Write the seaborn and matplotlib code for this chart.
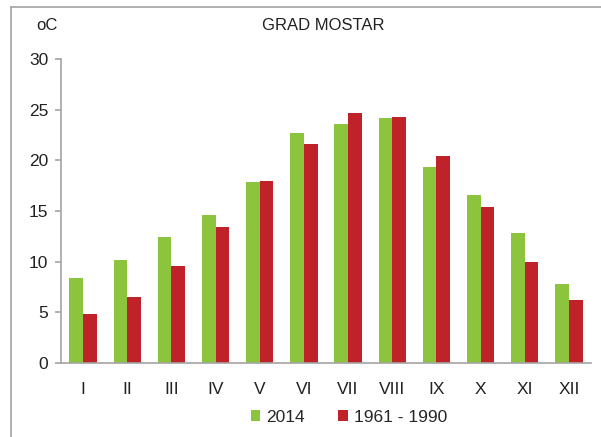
import numpy as np
import pandas as pd
import matplotlib
matplotlib.use("Agg")
import matplotlib.pyplot as plt
import seaborn as sns
from matplotlib.patches import Patch
from matplotlib.lines import Line2D

months = ["I", "II", "III", "IV", "V", "VI", "VII", "VIII", "IX", "X", "XI", "XII"]
series_names = ["2014", "1961 - 1990"]
vals_2014 = [8.4, 10.2, 12.4, 14.6, 17.9, 22.7, 23.6, 24.2, 19.3, 16.6, 12.8, 7.8]
vals_norm = [4.8, 6.5, 9.6, 13.4, 18.0, 21.6, 24.7, 24.3, 20.4, 15.4, 10.0, 6.2]
colors = ["#8CC43E", "#BF2228"]

df = pd.DataFrame({
    "month": months * 2,
    "series": [series_names[0]] * 12 + [series_names[1]] * 12,
    "temp": vals_2014 + vals_norm,
})

sns.set_theme(style="white")
plt.rcParams["font.family"] = ["Liberation Sans", "DejaVu Sans"]

fig = plt.figure(figsize=(6.01, 4.37), dpi=100)
ax = fig.add_axes([61 / 601, 1 - 363 / 437, 530 / 601, (363 - 59) / 437])

sns.barplot(data=df, x="month", y="temp", hue="series", order=months,
            hue_order=series_names, palette=colors, width=0.62, gap=0,
            saturation=1, ax=ax, legend=False, edgecolor="none")

ax.set_xlim(-0.5, 11.5)
ax.set_ylim(0, 30)
ax.set_yticks([0, 5, 10, 15, 20, 25, 30])
ax.set_xlabel("")
ax.set_ylabel("")
for s in ["top", "right"]:
    ax.spines[s].set_visible(False)
for s in ["left", "bottom"]:
    ax.spines[s].set_color("#a3a3a3")
    ax.spines[s].set_linewidth(1.2)
ax.set_xticks(np.arange(-0.5, 12, 1), minor=True)
ax.tick_params(axis="x", which="major", length=0, pad=14, labelsize=12.5, colors="#222222")
ax.tick_params(axis="x", which="minor", length=5, width=1.2, color="#a3a3a3", direction="out")
ax.tick_params(axis="y", which="major", length=4, width=1.2, color="#a3a3a3",
               direction="out", labelsize=12.5, labelcolor="#222222", left=True, pad=5)

fig.text(323 / 601, 1 - 25 / 437, "GRAD MOSTAR", ha="center", va="center", fontsize=12, color="#222222")
fig.text(47 / 601, 1 - 26 / 437, "oC", ha="center", va="center", fontsize=12, color="#222222")

handles = [Patch(facecolor=colors[0], edgecolor="none", label=series_names[0]),
           Patch(facecolor=colors[1], edgecolor="none", label=series_names[1])]
fig.legend(handles=handles, loc="center", bbox_to_anchor=(349 / 601, 1 - 417 / 437), ncol=2,
           frameon=False, fontsize=12.5, handlelength=0.55, handleheight=0.55,
           handletextpad=0.35, columnspacing=1.9)

fig.add_artist(Line2D([11 / 601, 11 / 601], [0, 1 - 7 / 437], color="#a3a3a3", lw=1.2, transform=fig.transFigure))
fig.add_artist(Line2D([11 / 601, 1], [1 - 7 / 437, 1 - 7 / 437], color="#a3a3a3", lw=1.2, transform=fig.transFigure))

fig.savefig("out.png", dpi=100)
